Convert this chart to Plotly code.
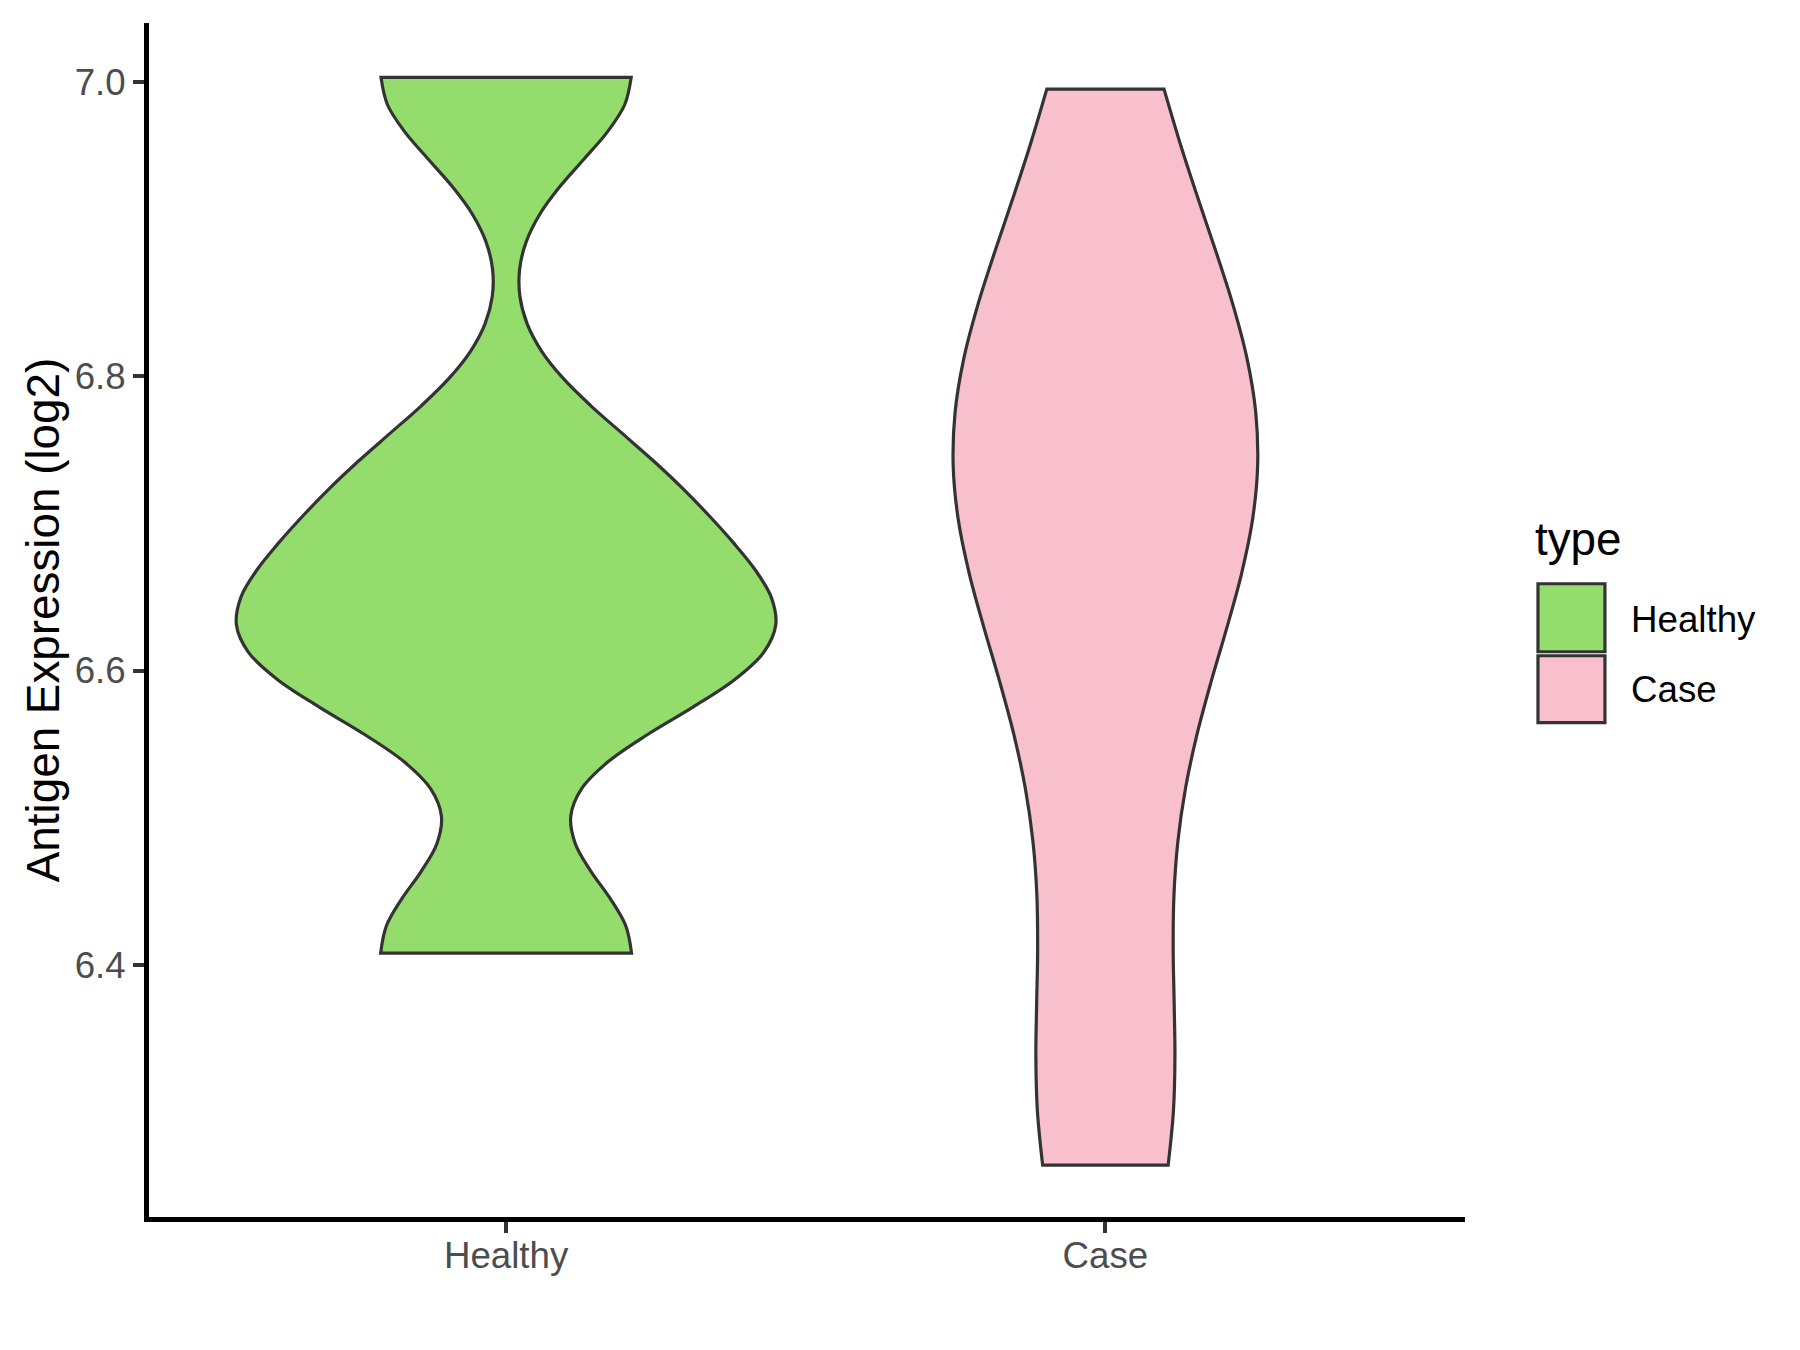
import plotly.graph_objects as go

# ---------------- data ----------------
categories = ["Healthy", "Case"]
healthy_values = [6.408, 6.605, 6.635, 6.725, 7.003]
case_values = [6.264, 6.30, 6.45, 6.58, 6.66, 6.70, 6.74, 6.78, 6.82, 6.87, 6.995]
y_tick_values = [6.4, 6.6, 6.8, 7.0]
y_tick_labels = ["6.4", "6.6", "6.8", "7.0"]
legend_title = "type"
y_title = "Antigen Expression (log2)"

# ---------------- style ----------------
FONT = "Liberation Sans, Arial, Helvetica, sans-serif"
fill_colors = {"Healthy": "#94DC6C", "Case": "#F7C0CC"}
bandwidths = {"Healthy": 0.057, "Case": 0.11}
violin_widths = {"Healthy": 0.9, "Case": 0.508}
OUTLINE = "#333333"
AXIS_LW = 5

W, H = 1800, 1350
# panel edges (page pixels) as in the reference
PANEL_L, PANEL_R, PANEL_T, PANEL_B = 146, 1465, 23, 1220
# plotly draws the axis line just outside the plot area, so inset the plot area
L = PANEL_L + AXIS_LW / 2
B_EDGE = PANEL_B - AXIS_LW / 2
R = W - PANEL_R
T = PANEL_T
B = H - B_EDGE
plot_w = W - L - R
plot_h = H - T - B

series = {"Healthy": healthy_values, "Case": case_values}

# y range: data range expanded by 5% (ggplot default), then inset for the axis line
all_vals = healthy_values + case_values
lo, hi = min(all_vals), max(all_vals)
pad = (hi - lo) * 0.05
y0_full, y1_full = lo - pad, hi + pad
y_per_px = (y1_full - y0_full) / (PANEL_B - PANEL_T)
y_range = [y0_full + (AXIS_LW / 2) * y_per_px, y1_full]

x0_full, x1_full = -0.6, len(categories) - 1 + 0.6
x_per_px = (x1_full - x0_full) / (PANEL_R - PANEL_L)
x_range = [x0_full + (AXIS_LW / 2) * x_per_px, x1_full]

fig = go.Figure()
for cat in categories:
    vals = series[cat]
    fig.add_trace(go.Violin(
        x=[cat] * len(vals),
        y=vals,
        name=cat,
        width=violin_widths[cat],
        bandwidth=bandwidths[cat],
        spanmode="hard",
        scalemode="width",
        points=False,
        box_visible=False,
        meanline_visible=False,
        fillcolor=fill_colors[cat],
        opacity=1,
        line=dict(color=OUTLINE, width=3.2),
        showlegend=False,
        hoverinfo="skip",
    ))


def px(x, y):
    """convert page pixel position to paper coordinates"""
    return (x - L) / plot_w, (H - B - y) / plot_h


shapes = []
annotations = []
# legend keys
key_boxes = {"Healthy": (1538, 584, 1605, 652), "Case": (1538, 656, 1605, 723)}
label_pos = {"Healthy": (1629, 620), "Case": (1629, 690)}
for cat in categories:
    x0, y0, x1, y1 = key_boxes[cat]
    px0, py1 = px(x0, y0)
    px1, py0 = px(x1, y1)
    shapes.append(dict(type="rect", xref="paper", yref="paper",
                       x0=px0, x1=px1, y0=py0, y1=py1,
                       fillcolor=fill_colors[cat],
                       line=dict(color=OUTLINE, width=3.2), layer="above"))
    lx, ly = px(*label_pos[cat])
    annotations.append(dict(text=cat, xref="paper", yref="paper", x=lx, y=ly,
                            xanchor="left", yanchor="middle", showarrow=False,
                            font=dict(family=FONT, size=36.7, color="black")))

tx, ty = px(1533, 540)
annotations.append(dict(text=legend_title, xref="paper", yref="paper", x=tx, y=ty,
                        xanchor="left", yanchor="middle", showarrow=False,
                        font=dict(family=FONT, size=45.8, color="black")))

fig.update_layout(
    width=W, height=H,
    margin=dict(l=L, r=R, t=T, b=B, pad=0),
    paper_bgcolor="white",
    plot_bgcolor="white",
    showlegend=False,
    shapes=shapes,
    annotations=annotations,
    violinmode="overlay",
    font=dict(family=FONT),
)

fig.update_xaxes(
    type="category",
    categoryorder="array", categoryarray=categories,
    range=x_range,
    showline=True, linecolor="black", linewidth=AXIS_LW,
    ticks="outside", ticklen=11, tickwidth=4, tickcolor=OUTLINE,
    tickfont=dict(family=FONT, size=36.7, color="#4D4D4D"),
    ticklabelstandoff=-9,
    showgrid=False, zeroline=False,
)
fig.update_yaxes(
    range=y_range,
    tickvals=y_tick_values, ticktext=y_tick_labels,
    showline=True, linecolor="black", linewidth=AXIS_LW,
    ticks="outside", ticklen=11, tickwidth=4, tickcolor=OUTLINE,
    tickfont=dict(family=FONT, size=36.7, color="#4D4D4D"),
    showgrid=False, zeroline=False,
    title=dict(text=y_title, font=dict(family=FONT, size=45.8, color="black"), standoff=2),
)

fig.write_html("out.html", config={"displayModeBar": False},
               post_script="document.body.style.margin='0';")
